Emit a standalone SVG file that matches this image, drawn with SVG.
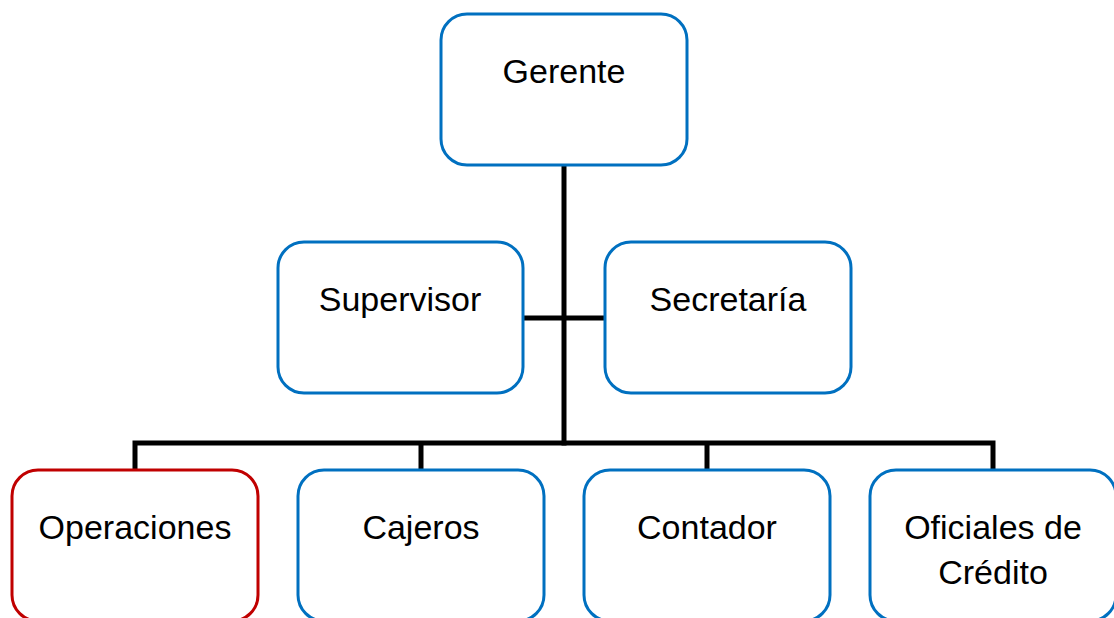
<svg xmlns="http://www.w3.org/2000/svg" width="1114" height="618" viewBox="0 0 1114 618">
  <style>
    .box { fill: #ffffff; stroke: #0070C0; stroke-width: 3; }
    .box.red { stroke: #C00000; }
    .lbl { font-family: "Liberation Sans", Arial, sans-serif; font-size: 34px; fill: #000000; text-anchor: middle; }
    .wire { fill: none; stroke: #000000; stroke-width: 5; }
  </style>
  <rect width="1114" height="618" fill="#ffffff"/>

  <!-- connectors -->
  <g id="connectors">
    <line class="wire" x1="564" y1="165" x2="564" y2="445.5"/>
    <line class="wire" x1="523" y1="318" x2="604" y2="318"/>
    <polyline class="wire" points="135,470 135,443 993,443 993,470"/>
    <line class="wire" x1="421" y1="443" x2="421" y2="470"/>
    <line class="wire" x1="707" y1="443" x2="707" y2="470"/>
  </g>

  <g id="gerente">
    <rect class="box" x="441" y="14" width="246" height="151" rx="26"/>
    <text class="lbl" x="564" y="83">Gerente</text>
  </g>
  <g id="supervisor">
    <rect class="box" x="278" y="242" width="245" height="151" rx="26"/>
    <text class="lbl" x="400" y="311">Supervisor</text>
  </g>
  <g id="secretaria">
    <rect class="box" x="605" y="242" width="246" height="151" rx="26"/>
    <text class="lbl" x="728" y="311">Secretaría</text>
  </g>
  <g id="operaciones">
    <rect class="box red" x="12" y="470" width="246" height="151" rx="26"/>
    <text class="lbl" x="135" y="539">Operaciones</text>
  </g>
  <g id="cajeros">
    <rect class="box" x="298" y="470" width="246" height="151" rx="26"/>
    <text class="lbl" x="421" y="539">Cajeros</text>
  </g>
  <g id="contador">
    <rect class="box" x="584" y="470" width="246" height="151" rx="26"/>
    <text class="lbl" x="707" y="539">Contador</text>
  </g>
  <g id="oficiales">
    <rect class="box" x="870" y="470" width="246" height="151" rx="26"/>
    <text class="lbl" x="993" y="539">Oficiales de</text>
    <text class="lbl" x="993" y="584">Crédito</text>
  </g>
</svg>
